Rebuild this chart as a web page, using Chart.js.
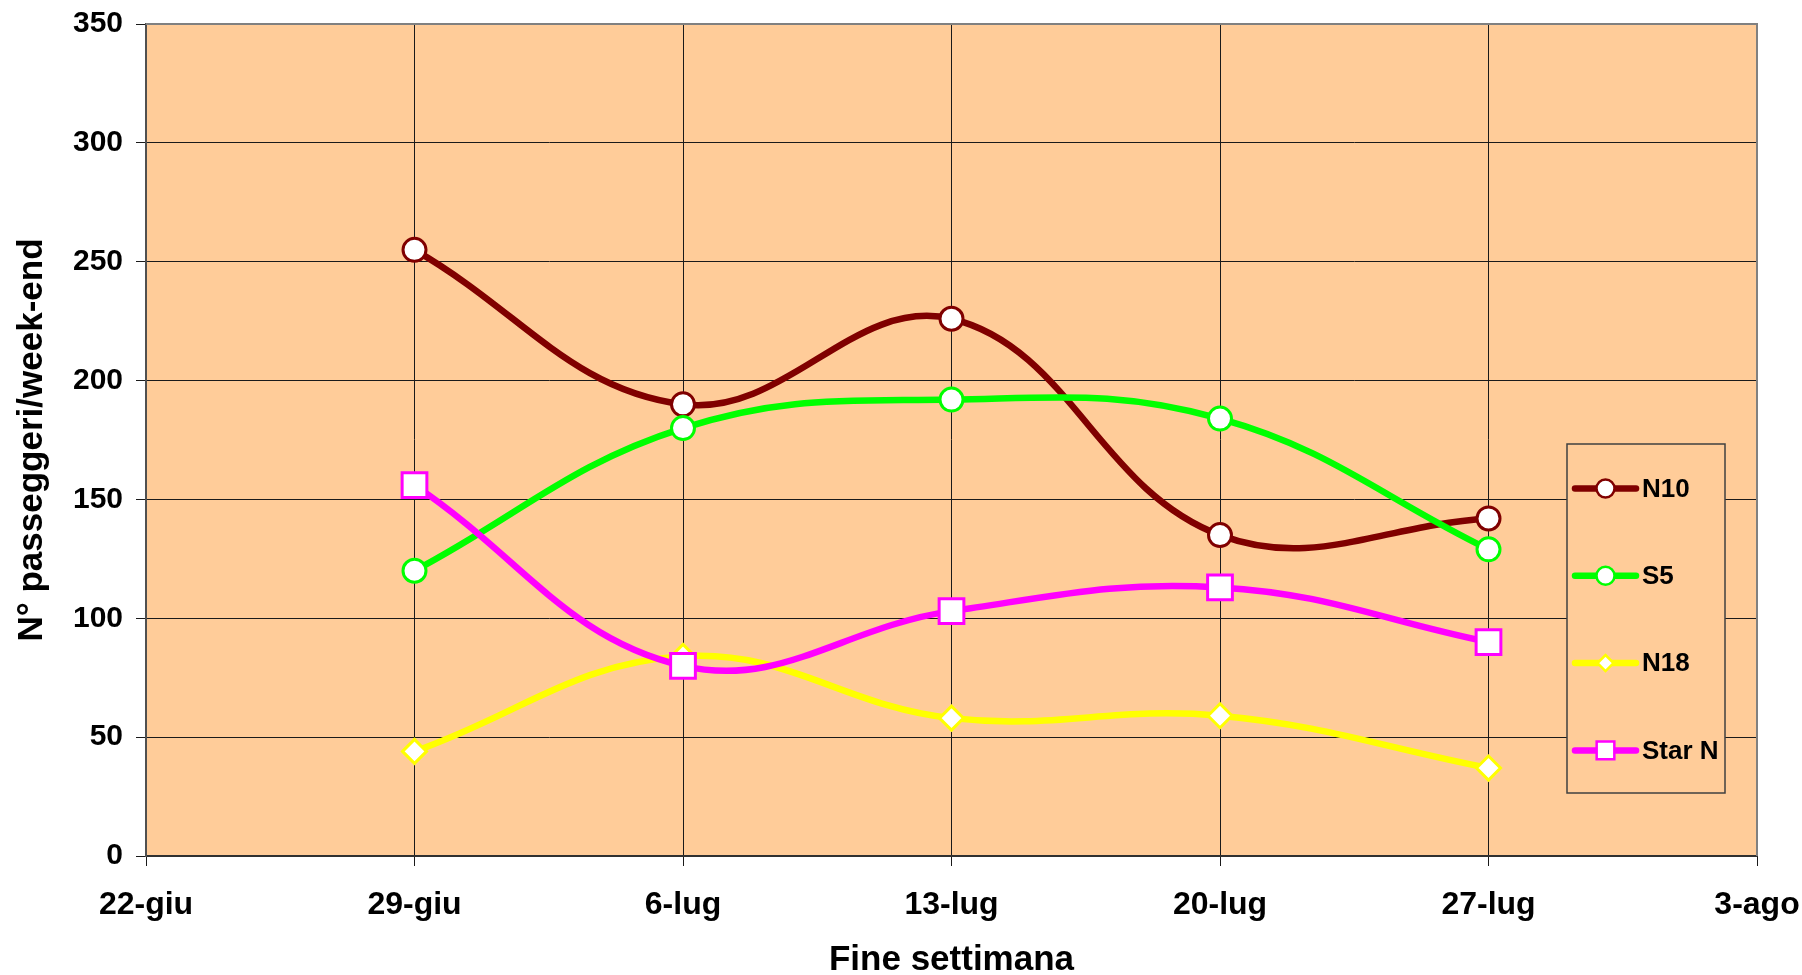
<!DOCTYPE html>
<html lang="it">
<head>
<meta charset="utf-8">
<title>Passeggeri per fine settimana</title>
<script src="https://cdn.jsdelivr.net/npm/chart.js@4.4.1/dist/chart.umd.min.js"></script>
<style>
  html, body { margin: 0; padding: 0; background: #ffffff; }
  #wrap { width: 1802px; height: 975px; position: relative; }
</style>
</head>
<body>
<div id="wrap"><canvas id="c" width="1802" height="975"></canvas></div>
<script>
// Weekend dates on the horizontal axis
const weekends = ['22-giu', '29-giu', '6-lug', '13-lug', '20-lug', '27-lug', '3-ago'];

// Passengers per weekend, one array per line (no data for the first and last weekend)
const n10   = [null, 255, 190, 226, 135, 142, null];
const s5    = [null, 120, 180, 192, 184, 129, null];
const n18   = [null,  44,  84,  58,  59,  37, null];
const starN = [null, 156,  80, 103, 113,  90, null];

const seriesNames = ['N10', 'S5', 'N18', 'Star N'];

const yMin = 0, yMax = 350, yStep = 50;

const FONT = "'Liberation Sans', Arial, Helvetica, sans-serif";
const PLOT_BG = '#FFCC99';

function lineSet(label, data, color, style, radius, legendRadius, order) {
  return {
    label, data, order, legendRadius,
    borderColor: color,
    borderWidth: 6.5,
    borderCapStyle: 'round',
    borderJoinStyle: 'round',
    tension: 0.4,
    fill: false,
    pointStyle: style,
    pointRadius: radius,
    pointHoverRadius: radius,
    pointBackgroundColor: '#ffffff',
    pointBorderColor: color,
    pointBorderWidth: 3
  };
}

// Plot background and the grey frame on the top and right sides
const plotFrame = {
  id: 'plotFrame',
  beforeDraw(chart) {
    const { ctx, chartArea: a } = chart;
    ctx.save();
    ctx.fillStyle = PLOT_BG;
    ctx.fillRect(a.left, a.top, a.right - a.left, a.bottom - a.top);
    ctx.restore();
  },
  beforeDatasetsDraw(chart) {
    const { ctx, chartArea: a } = chart;
    ctx.save();
    ctx.strokeStyle = '#808080';
    ctx.lineWidth = 2;
    ctx.beginPath();
    ctx.moveTo(a.left, a.top);
    ctx.lineTo(a.right, a.top);
    ctx.lineTo(a.right, a.bottom);
    ctx.stroke();
    ctx.restore();
  }
};

// Boxed legend inside the plot, on the right
const boxLegend = {
  id: 'boxLegend',
  afterDraw(chart) {
    const { ctx, chartArea: a } = chart;
    const left = a.right - 190, right = a.right - 32;
    const top = a.top + 420, bottom = a.top + 769;
    ctx.save();
    ctx.fillStyle = PLOT_BG;
    ctx.fillRect(left, top, right - left, bottom - top);
    ctx.strokeStyle = '#404040';
    ctx.lineWidth = 1.5;
    ctx.strokeRect(left, top, right - left, bottom - top);

    const rowStart = top + 44.5, rowGap = 87.3;
    chart.data.datasets.forEach((ds, i) => {
      const y = rowStart + i * rowGap;
      const x0 = left + 8, x1 = left + 69, xm = (x0 + x1) / 2;
      ctx.strokeStyle = ds.borderColor;
      ctx.lineWidth = ds.borderWidth;
      ctx.lineCap = 'round';
      ctx.beginPath();
      ctx.moveTo(x0, y);
      ctx.lineTo(x1, y);
      ctx.stroke();
      ctx.lineCap = 'butt';
      ctx.fillStyle = ds.pointBackgroundColor;
      ctx.strokeStyle = ds.pointBorderColor;
      ctx.lineWidth = 2.5;
      Chart.helpers.drawPoint(ctx, { pointStyle: ds.pointStyle, rotation: 0, radius: ds.legendRadius, borderWidth: 2.5 }, xm, y);
      ctx.fillStyle = '#000000';
      ctx.font = 'bold 26px ' + FONT;
      ctx.textAlign = 'left';
      ctx.textBaseline = 'middle';
      ctx.fillText(ds.label, x1 + 6, y + 1);
    });
    ctx.restore();
  }
};

new Chart(document.getElementById('c'), {
  type: 'line',
  data: {
    labels: weekends,
    datasets: [
      lineSet(seriesNames[0], n10,   '#800000', 'circle',  11.5, 9,   4),
      lineSet(seriesNames[1], s5,    '#00FF00', 'circle',  11.5, 9,   3),
      lineSet(seriesNames[2], n18,   '#FFFF00', 'rectRot', 12,   8,   2),
      lineSet(seriesNames[3], starN, '#FF00FF', 'rect',    17.5, 12.5, 1)
    ]
  },
  options: {
    responsive: false,
    animation: false,
    devicePixelRatio: 1,
    layout: { padding: { left: 0, top: 24, right: 45, bottom: 0 } },
    plugins: {
      legend: { display: false },
      tooltip: { enabled: false }
    },
    scales: {
      x: {
        type: 'category',
        offset: false,
        grid: { color: '#1a1a1a', lineWidth: 1, drawTicks: true, tickLength: 10, tickColor: '#1a1a1a' },
        border: { color: '#303030', width: 2 },
        ticks: {
          color: '#000000',
          padding: 20,
          maxRotation: 0,
          autoSkip: false,
          font: { family: FONT, size: 32, weight: 'bold' }
        },
        title: {
          display: true,
          text: 'Fine settimana',
          color: '#000000',
          padding: { top: 0, bottom: 0 },
          font: { family: FONT, size: 35, weight: 'bold', lineHeight: 0.85 }
        },
        afterFit(scale) {
          scale.height = 119;
          scale.paddingLeft = 0;
          scale.paddingRight = 0;
        }
      },
      y: {
        min: yMin,
        max: yMax,
        grid: { color: '#1a1a1a', lineWidth: 1, drawTicks: true, tickLength: 10, tickColor: '#1a1a1a' },
        border: { color: '#505050', width: 2 },
        ticks: {
          stepSize: yStep,
          color: '#000000',
          padding: 13,
          font: { family: FONT, size: 30, weight: 'bold' }
        },
        title: {
          display: true,
          text: 'N° passeggeri/week-end',
          color: '#000000',
          padding: { top: 15, bottom: 0 },
          font: { family: FONT, size: 35, weight: 'bold', lineHeight: 1 }
        },
        afterFit(scale) {
          scale.width = 146;
          scale.paddingTop = 0;
          scale.paddingBottom = 0;
        }
      }
    }
  },
  plugins: [plotFrame, boxLegend]
});
</script>
</body>
</html>
